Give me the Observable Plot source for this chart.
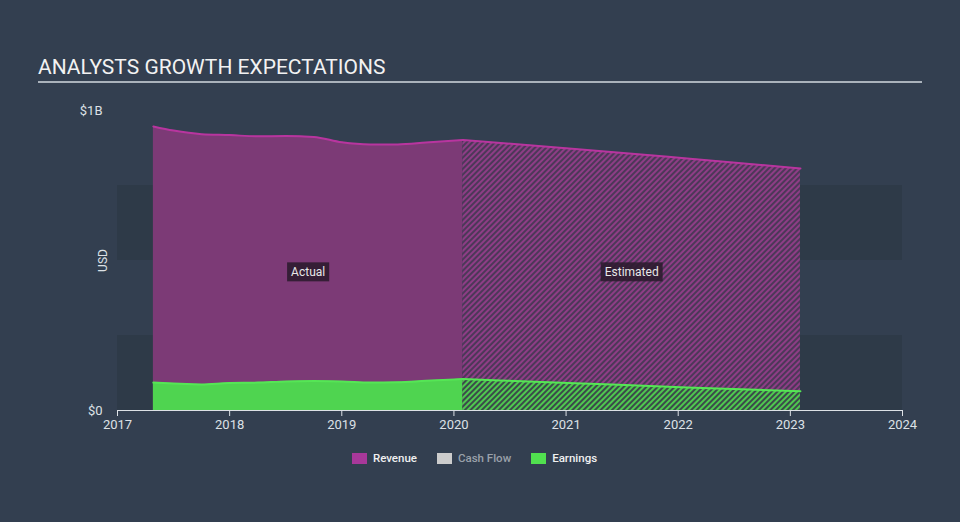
<!DOCTYPE html>
<html>
<head>
<meta charset="utf-8">
<script src="https://cdn.jsdelivr.net/npm/d3@7"></script>
<script src="https://cdn.jsdelivr.net/npm/@observablehq/plot@0.6"></script>
<style>
  html, body { margin: 0; padding: 0; background: #333f50; }
  #root { position: relative; width: 960px; height: 522px; background: #333f50; font-family: Roboto, "Open Sans", sans-serif; overflow: hidden; }
  #title { position: absolute; left: 38px; top: 55px; width: 884px; font-size: 21px; line-height: 25px; color: #f2f2f2; border-bottom: 2px solid #aab2bb; padding-bottom: 1px; }
  #chart { position: absolute; left: 0; top: 90px; }
  #legend { position: absolute; left: 0; top: 451px; width: 949px; display: flex; justify-content: center; font-size: 11.5px; font-weight: 500; }
  .item { display: flex; align-items: center; margin: 0 10px; }
  .sw { width: 15px; height: 11px; margin-right: 6px; }
</style>
</head>
<body>
<div id="root">
  <div id="title">ANALYSTS GROWTH EXPECTATIONS</div>
  <div id="chart"></div>
  <div id="legend"></div>
</div>
<script>
// ---- data (values in billions USD, dates as decimal years) ----
const actualDates   = [2017.32, 2017.5, 2017.75, 2018.0, 2018.25, 2018.5, 2018.75, 2019.0, 2019.25, 2019.5, 2019.75, 2020.08];
const revenueActual = [0.947, 0.933, 0.921, 0.918, 0.914, 0.915, 0.912, 0.894, 0.887, 0.887, 0.893, 0.902];
const earningsActual= [0.093, 0.090, 0.087, 0.092, 0.093, 0.097, 0.098, 0.097, 0.093, 0.094, 0.099, 0.105];

const estDates        = [2020.08, 2021.08, 2022.08, 2023.09];
const revenueEst      = [0.902, 0.872, 0.840, 0.807];
const earningsEst     = [0.105, 0.091, 0.077, 0.064];

const xTicks = [2017, 2018, 2019, 2020, 2021, 2022, 2023, 2024];
const yTicks = [0, 1];
const yTickLabels = ["$0", "$1B"];
const bandLow  = [0, 0.5];
const bandHigh = [0.25, 0.75];
const periodLabels = ["Actual", "Estimated"];
const legendNames = ["Revenue", "Cash Flow", "Earnings"];
const legendColors = ["#a8389a", "#cccccc", "#51e04f"];
const legendTextColors = ["#f0f0f0", "#9aa1aa", "#f0f0f0"];

// ---- build tables ----
const actual = actualDates.map((d, i) => ({date: d, revenue: revenueActual[i], earnings: earningsActual[i]}));
const est = estDates.map((d, i) => ({date: d, revenue: revenueEst[i], earnings: earningsEst[i]}));
const bands = bandLow.map((b, i) => ({y1: b, y2: bandHigh[i]}));
const labels = [
  {text: periodLabels[0], x: (actualDates[0] + actualDates[actualDates.length - 1]) / 2},
  {text: periodLabels[1], x: (estDates[0] + estDates[estDates.length - 1]) / 2}
];
const labelY = 0.46;

const curve = "monotone-x";

const svg = Plot.plot({
  width: 960,
  height: 360,
  marginLeft: 117,
  marginRight: 58,
  marginTop: 20,
  marginBottom: 40,
  style: {background: "transparent", color: "#dde1e6", fontFamily: "Roboto, sans-serif", fontSize: "13px"},
  x: {domain: [2017, 2024], ticks: xTicks, tickFormat: d => String(d), tickSize: 6, tickPadding: 3, line: true, label: null},
  y: {domain: [0, 1], ticks: yTicks, tickFormat: (d, i) => yTickLabels[yTicks.indexOf(d)], tickSize: 0, tickPadding: 15, label: null},
  marks: [
    Plot.rect(bands, {x1: () => xTicks[0], x2: () => xTicks[xTicks.length - 1], y1: "y1", y2: "y2", fill: "#2e3a48"}),
    Plot.areaY(actual, {x: "date", y1: 0, y2: "revenue", fill: "#7c3a76", curve}),
    Plot.areaY(est, {x: "date", y1: 0, y2: "revenue", fill: "url(#hatchRev)", curve}),
    Plot.areaY(actual, {x: "date", y1: 0, y2: "earnings", fill: "#4fd450", curve}),
    Plot.areaY(est, {x: "date", y1: 0, y2: "earnings", fill: "url(#hatchEarn)", curve}),
    Plot.lineY(actual, {x: "date", y: "revenue", stroke: "#b8359f", strokeWidth: 2, curve}),
    Plot.lineY(est, {x: "date", y: "revenue", stroke: "#b8359f", strokeWidth: 2, curve}),
    Plot.lineY(actual, {x: "date", y: "earnings", stroke: "#55e655", strokeWidth: 2, curve}),
    Plot.lineY(est, {x: "date", y: "earnings", stroke: "#55e655", strokeWidth: 2, curve}),
    Plot.text(labels, {x: "x", y: () => labelY, text: "text", fill: "#e8e8e8", fontSize: 12}),
    Plot.text(["USD"], {frameAnchor: "left", textAnchor: "middle", rotate: -90, dx: -14, fill: "#dde1e6", fontSize: 12})
  ]
});

// hatch patterns
const s = d3.select(svg);
const defs = s.insert("defs", ":first-child");
function hatch(id, bg, fg) {
  const p = defs.append("pattern").attr("id", id).attr("patternUnits", "userSpaceOnUse")
    .attr("width", 4).attr("height", 4).attr("patternTransform", "rotate(45)");
  p.append("rect").attr("width", 4).attr("height", 4).attr("fill", bg);
  p.append("rect").attr("width", 2).attr("height", 4).attr("fill", fg);
}
hatch("hatchRev", "#4c3858", "#8e3d86");
hatch("hatchEarn", "#3b4a4a", "#4fc84f");

document.getElementById("chart").appendChild(svg);

// label boxes behind Actual / Estimated
s.selectAll("text").each(function() {
  const t = this.textContent;
  if (periodLabels.includes(t)) {
    const b = this.getBBox();
    const tr = this.getAttribute("transform");
    d3.select(this.parentNode).insert("rect", () => this)
      .attr("x", b.x - 4).attr("y", b.y - 3).attr("width", b.width + 8).attr("height", b.height + 5)
      .attr("transform", tr)
      .attr("fill", "#2e1c30").attr("opacity", 0.9);
  }
});

// legend
const lg = d3.select("#legend");
legendNames.forEach((n, i) => {
  const it = lg.append("div").attr("class", "item");
  it.append("div").attr("class", "sw").style("background", legendColors[i]);
  it.append("span").text(n).style("color", legendTextColors[i]);
});
</script>
</body>
</html>
